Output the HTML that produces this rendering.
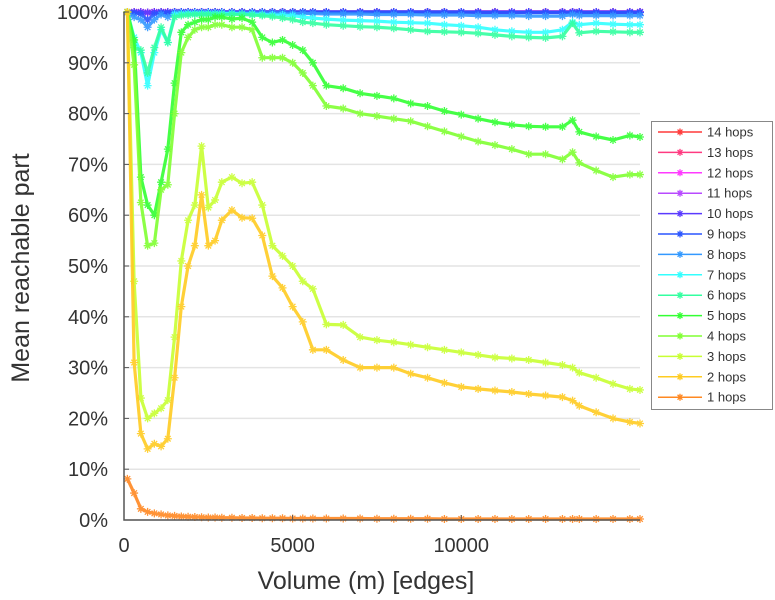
<!DOCTYPE html>
<html><head><meta charset="utf-8"><style>
html,body{margin:0;padding:0;background:#fff;width:775px;height:600px;overflow:hidden}
svg text{font-family:"Liberation Sans",sans-serif;fill:#333}
</style></head><body>
<svg id="chart" width="775" height="600" xmlns="http://www.w3.org/2000/svg">
<g id="grid"></g>
<g id="series"></g>
<g id="axes"></g>
<text x="0" y="0" transform="translate(29,268) rotate(-90)" text-anchor="middle" font-size="25">Mean reachable part</text>
<text x="366" y="589" text-anchor="middle" font-size="25">Volume (m) [edges]</text>
<g id="legend"></g>
</svg>
<script>
const volumes=[100,300,500,700,900,1100,1300,1500,1700,1900,2100,2300,2500,2700,2900,3200,3500,3800,4100,4400,4700,5000,5300,5600,6000,6500,7000,7500,8000,8500,9000,9500,10000,10500,11000,11500,12000,12500,13000,13300,13500,14000,14500,15000,15300];
const hops1=[8.1,5.3,2.2,1.6,1.3,1.1,0.9,0.8,0.7,0.65,0.6,0.55,0.5,0.5,0.45,0.45,0.4,0.4,0.35,0.35,0.35,0.3,0.3,0.3,0.3,0.3,0.3,0.25,0.25,0.25,0.25,0.2,0.2,0.2,0.2,0.2,0.2,0.2,0.2,0.2,0.2,0.2,0.2,0.2,0.2];
const hops2=[100,31,17,14,15,14.5,16,28,42,50,54,64,54,55,59,61,59.5,59.4,56,48,45.7,42,39,33.5,33.5,31.5,30,30,30,28.8,28,27,26.2,25.8,25.5,25.2,24.8,24.5,24.2,23.5,22.5,21.2,20,19.3,19];
const hops3=[100,47,24,20,21,22,23.6,36,51,59,62,73.6,61.5,63,66.5,67.5,66.3,66.5,62,54,52,50,47,45.5,38.5,38.4,36,35.4,35,34.5,34,33.5,33,32.5,32,31.8,31.5,31,30.5,30,29,28,26.8,25.8,25.6];
const hops4=[100,89.6,62.5,54,54.5,65,66,80,92,95,96.5,97,97,97.5,97.5,97,97,96.5,91,91,91,90,88,85.5,81.5,81,80,79.5,79,78.5,77.5,76.5,75.5,74.5,73.8,73,72,72,71,72.4,70.3,68.8,67.5,68,68];
const hops5=[100,94.5,67.5,62,60,66.5,73,86,96,97.5,98,98.5,98.5,99,99,98.6,98.8,98,95,94,94.5,93.5,92.5,90,85.5,85,84,83.5,83,82,81.5,80.5,79.8,79,78.3,77.8,77.5,77.4,77.4,78.7,76.4,75.5,74.8,75.7,75.4];
const hops6=[100,93,92.5,88,93,97,94,99,99.3,99.4,99.5,99.5,99.5,99.5,99.5,99.5,99.5,99.4,99.3,99.1,98.8,98.5,98,97.8,97.5,97.3,97.1,97,96.8,96.5,96.2,96.1,96,95.8,95.5,95.2,95,94.9,95.2,97.8,95.9,96.2,96.1,96,96];
const hops7=[100,95,92,85.5,92,96.5,94,99.5,99.6,99.7,99.7,99.7,99.7,99.7,99.7,99.7,99.6,99.6,99.5,99.4,99.4,99.3,99,98.8,98.6,98.4,98.3,98.2,98,97.9,97.8,97.5,97.3,97,96.5,96.2,96,96,96.5,98,97.5,97.8,97.6,97.5,97.5];
const hops8=[100,99,98.5,97,98.5,99.5,99,99.8,99.8,99.8,99.8,99.8,99.8,99.8,99.8,99.8,99.8,99.8,99.8,99.8,99.8,99.7,99.7,99.7,99.6,99.6,99.6,99.5,99.5,99.5,99.4,99.4,99.4,99.3,99.3,99.3,99.2,99.2,99.2,99.5,99.3,99.3,99.3,99.3,99.3];
const hops9=[100,99.8,99.6,98.4,99.6,99.9,99.8,100,100,100,100,100,100,100,100,100,100,100,100,100,100,100,100,100,100,100,100,100,100,100,100,100,100,99.9,99.9,99.9,99.9,99.9,99.9,99.9,99.9,99.9,99.9,99.9,99.9];
const hopsHigh=[100,100,100,99.9,100,100,100,100,100,100,100,100,100,100,100,100,100,100,100,100,100,100,100,100,100,100,100,100,100,100,100,100,100,100,100,100,100,100,100,100,100,100,100,100,100];
const seriesNames=["14 hops","13 hops","12 hops","11 hops","10 hops","9 hops","8 hops","7 hops","6 hops","5 hops","4 hops","3 hops","2 hops","1 hops"];
const seriesValues=[hopsHigh,hopsHigh,hopsHigh,hopsHigh,hopsHigh,hops9,hops8,hops7,hops6,hops5,hops4,hops3,hops2,hops1];
const seriesColors=["#ff3a3a","#ff3a80","#ff3aff","#b84aff","#5a3aff","#2a55ff","#3399ff","#33ffff","#33ffa0","#33ff33","#80ff33","#c8ff33","#ffcc22","#ff8822"];
const yTicks=[0,10,20,30,40,50,60,70,80,90,100];
const xTicks=[0,5000,10000];

const X0=124,X1=640,XMAX=15300,Y0=520,Y1=12;
const sx=v=>X0+(v/XMAX)*(X1-X0);
const sy=p=>Y0-(p/100)*(Y0-Y1);
const NS="http://www.w3.org/2000/svg";
function mk(tag,attrs,parent){const e=document.createElementNS(NS,tag);for(const k in attrs)e.setAttribute(k,attrs[k]);parent.appendChild(e);return e;}
function star(g,cx,cy,r,col){
  const d=`M${cx-r},${cy}H${cx+r}M${cx},${cy-r}V${cy+r}M${cx-r*.7},${cy-r*.7}L${cx+r*.7},${cy+r*.7}M${cx-r*.7},${cy+r*.7}L${cx+r*.7},${cy-r*.7}`;
  const p=mk('path',{d:d,stroke:col,'stroke-width':1.3,fill:'none'},g);
  
  
}
const grid=document.getElementById('grid'),axes=document.getElementById('axes');
yTicks.forEach(t=>{
  const l=mk('line',{x1:X0,x2:X1,y1:sy(t),y2:sy(t),stroke:'#e4e4e4','stroke-width':1.5},grid);
  
  
  const tx=mk('text',{x:108,y:sy(t)+7,'text-anchor':'end','font-size':20},axes);
  tx.textContent=t+'%';
  
  
  mk('line',{x1:X0,x2:X0+5,y1:sy(t),y2:sy(t),stroke:'#555'},axes);
});
xTicks.forEach(t=>{
  const tx=mk('text',{x:sx(t),y:552,'text-anchor':'middle','font-size':20},axes);
  tx.textContent=t;
  
  
  mk('line',{x1:sx(t),x2:sx(t),y1:Y0,y2:Y0-5,stroke:'#555'},axes);
});
mk('path',{d:`M${X0},${Y1}V${Y0}H${X1}`,stroke:'#555','stroke-width':1.5,fill:'none'},axes);

const sg=document.getElementById('series');
seriesValues.forEach((vals,i)=>{
  const g=mk('g',{opacity:0.9},sg);
  
  
  const pts=volumes.map((v,j)=>sx(v).toFixed(1)+','+sy(vals[j]).toFixed(1)).join(' ');
  const pl=mk('polyline',{points:pts,stroke:seriesColors[i],'stroke-width':3.2,fill:'none','stroke-linejoin':'round'},g);
  
  
  volumes.forEach((v,j)=>star(g,sx(v),sy(vals[j]),4,seriesColors[i]));
});

const lg=document.getElementById('legend');
mk('rect',{x:651.5,y:121.5,width:121,height:288,fill:'#fff',stroke:'#888','stroke-width':1},lg);
seriesNames.forEach((n,i)=>{
  const y=132+i*20.4;
  const g=mk('g',{},lg);
  
  
  mk('line',{x1:658,x2:702,y1:y,y2:y,stroke:seriesColors[i],'stroke-width':1.5},g);
  star(g,680,y,3.5,seriesColors[i]);
  const t=mk('text',{x:707,y:y+4.5,'font-size':13},g);
  t.textContent=n;
});
</script>
</body></html>
